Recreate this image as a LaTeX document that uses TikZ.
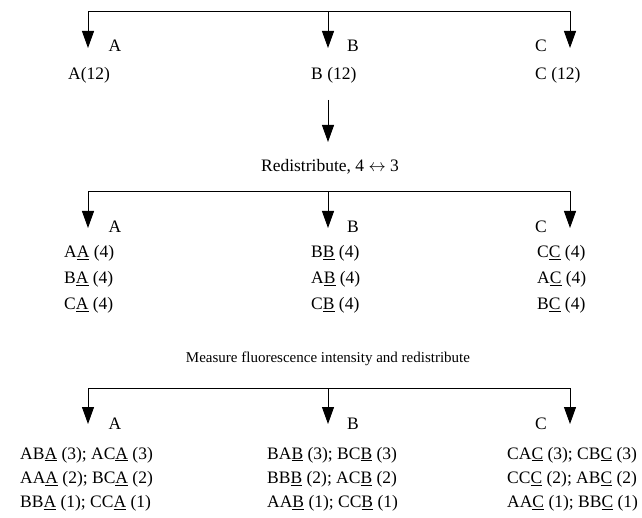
\documentclass[tikz,border=0pt]{standalone}
\usepackage{fontspec}
\setmainfont{Liberation Serif}
\usetikzlibrary{arrows.meta}
\tikzset{
  conn/.style={line width=1pt},
  arr/.style={conn,-{Triangle[width=12pt,length=17pt]}},
  barr/.style={conn,{Triangle[width=12pt,length=17pt]}-{Triangle[width=12pt,length=17pt]}},
  txt/.style={inner sep=0pt,anchor=base west,font=\fontsize{17.5}{21}\selectfont},
  lbl/.style={inner sep=0pt,anchor=base,font=\fontsize{17.5}{21}\selectfont},
  note/.style={inner sep=0pt,anchor=base,font=\fontsize{15}{18}\selectfont},
}
\newcommand{\ul}[1]{\underline{#1}}
\begin{document}
\begin{tikzpicture}[x=1pt,y=-1pt]
\useasboundingbox (0,0) rectangle (642,518);
% ---------- group 1
\coordinate (g1l) at (88,12);  \coordinate (g1m) at (328,12);  \coordinate (g1r) at (570,12);
\coordinate (g1lt) at (88,48); \coordinate (g1mt) at (328,48); \coordinate (g1rt) at (570,48);
\draw[barr] (g1lt) |- (g1r) -- (g1rt);
\draw[arr] (g1m) -- (g1mt);
\node[lbl] (la1) at (115,52) {A};
\node[lbl] (lb1) at (353,52) {B};
\node[lbl] (lc1) at (541,52) {C};
\node[txt] (a12) at (68,80) {A(12)};
\node[txt] (b12) at (311,80) {B (12)};
\node[txt] (c12) at (535,80) {C (12)};
% ---------- arrow down
\coordinate (d1) at (328,100); \coordinate (d2) at (328,142);
\draw[arr] (d1) -- (d2);
\node[lbl] (redis) at (330,172) {Redistribute, 4 $\leftrightarrow$ 3};
% ---------- group 2
\coordinate (g2l) at (88,192);  \coordinate (g2m) at (328,192);  \coordinate (g2r) at (570,192);
\coordinate (g2lt) at (88,228); \coordinate (g2mt) at (328,228); \coordinate (g2rt) at (570,228);
\draw[barr] (g2lt) |- (g2r) -- (g2rt);
\draw[arr] (g2m) -- (g2mt);
\node[lbl] (la2) at (115,233) {A};
\node[lbl] (lb2) at (353,233) {B};
\node[lbl] (lc2) at (541,233) {C};
\node[txt] (r2a1) at (64,258) {A\ul{A} (4)};
\node[txt] (r2a2) at (64,284) {B\ul{A} (4)};
\node[txt] (r2a3) at (64,310) {C\ul{A} (4)};
\node[txt] (r2b1) at (311,258) {B\ul{B} (4)};
\node[txt] (r2b2) at (311,284) {A\ul{B} (4)};
\node[txt] (r2b3) at (311,310) {C\ul{B} (4)};
\node[txt] (r2c1) at (537,258) {C\ul{C} (4)};
\node[txt] (r2c2) at (537,284) {A\ul{C} (4)};
\node[txt] (r2c3) at (537,310) {B\ul{C} (4)};
\node[note] (meas) at (328,362) {Measure fluorescence intensity and redistribute};
% ---------- group 3
\coordinate (g3l) at (88,388);  \coordinate (g3m) at (328,388);  \coordinate (g3r) at (570,388);
\coordinate (g3lt) at (88,424); \coordinate (g3mt) at (328,424); \coordinate (g3rt) at (570,424);
\draw[barr] (g3lt) |- (g3r) -- (g3rt);
\draw[arr] (g3m) -- (g3mt);
\node[lbl] (la3) at (115,429) {A};
\node[lbl] (lb3) at (353,429) {B};
\node[lbl] (lc3) at (541,429) {C};
\node[txt] (r3a1) at (20,459) {AB\ul{A} (3); AC\ul{A} (3)};
\node[txt] (r3a2) at (20,483.5) {AA\ul{A} (2); BC\ul{A} (2)};
\node[txt] (r3a3) at (20,507.5) {BB\ul{A} (1); CC\ul{A} (1)};
\node[txt] (r3b1) at (267,459) {BA\ul{B} (3); BC\ul{B} (3)};
\node[txt] (r3b2) at (267,483.5) {BB\ul{B} (2); AC\ul{B} (2)};
\node[txt] (r3b3) at (267,507.5) {AA\ul{B} (1); CC\ul{B} (1)};
\node[txt] (r3c1) at (507,459) {CA\ul{C} (3); CB\ul{C} (3)};
\node[txt] (r3c2) at (507,483.5) {CC\ul{C} (2); AB\ul{C} (2)};
\node[txt] (r3c3) at (507,507.5) {AA\ul{C} (1); BB\ul{C} (1)};
\end{tikzpicture}
\end{document}
